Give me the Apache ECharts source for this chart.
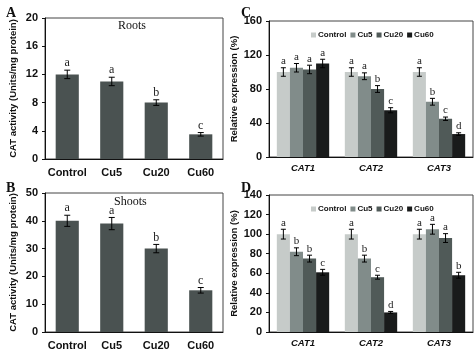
<!DOCTYPE html>
<html>
<head>
<meta charset="utf-8">
<script src="https://cdn.jsdelivr.net/npm/echarts@6/dist/echarts.min.js"></script>
<style>
html,body{margin:0;padding:0;background:#fff;}
#chart{width:474px;height:351px;}
</style>
</head>
<body>
<div id="chart"></div>
<script>
// treatments and genes
const groups = ['Control', 'Cu5', 'Cu20', 'Cu60'];
const genes = ['CAT1', 'CAT2', 'CAT3'];

// A - roots CAT activity
const rootsVal = [12, 11, 8, 3.5];
const rootsErr = [0.6, 0.6, 0.4, 0.25];
const rootsSig = ['a', 'a', 'b', 'c'];

// B - shoots CAT activity
const shootsVal = [40, 39, 30, 15];
const shootsErr = [2, 2.2, 1.5, 1];
const shootsSig = ['a', 'a', 'b', 'c'];

// C - roots relative expression, one array per treatment (CAT1, CAT2, CAT3)
const cVal = [[100, 100, 100], [105, 95, 65], [103, 80, 45], [110, 55, 27]];
const cErr = [[5, 5, 5], [5, 4, 4], [5, 4, 2], [5, 3, 1.5]];
const cSig = [['a', 'a', 'a'], ['a', 'a', 'b'], ['a', 'b', 'c'], ['a', 'c', 'd']];

// D - shoots relative expression
const dVal = [[100, 100, 100], [82, 75, 105], [75, 56, 96], [61, 20, 58]];
const dErr = [[5, 5, 5], [4, 3.5, 5], [3.5, 2, 4.5], [3, 1, 3]];
const dSig = [['a', 'a', 'a'], ['b', 'b', 'a'], ['b', 'c', 'a'], ['c', 'd', 'b']];

const greys = ['#c6cbc9', '#818c8a', '#505a58', '#191b1b'];
const catGap = 0.23;

var chart = echarts.init(document.getElementById('chart'));

// error bar + letter, drawn through the axes
function errSeries(gi, vals, errs, sigs, idx, n, gap, cap, fs) {
    return {
        type: 'custom',
        xAxisIndex: gi,
        yAxisIndex: gi,
        z: 5,
        data: vals.map((v, i) => [i, v, errs[i]]),
        renderItem: function (params, api) {
            const x = api.value(0), v = api.value(1), e = api.value(2);
            const band = api.size([1, 0])[0];
            const groupW = band * (1 - gap);
            const barW = groupW / n;
            const off = n === 1 ? 0 : -groupW / 2 + barW * (idx + 0.5);
            const top = api.coord([x, v + e]);
            const bot = api.coord([x, v - e]);
            const cx = top[0] + off;
            const st = { stroke: '#000', lineWidth: 1 };
            return {
                type: 'group',
                children: [
                    { type: 'line', shape: { x1: cx, y1: top[1], x2: cx, y2: bot[1] }, style: st },
                    { type: 'line', shape: { x1: cx - cap, y1: top[1], x2: cx + cap, y2: top[1] }, style: st },
                    { type: 'line', shape: { x1: cx - cap, y1: bot[1], x2: cx + cap, y2: bot[1] }, style: st },
                    { type: 'text', style: { x: cx, y: top[1] - 1, text: sigs[params.dataIndex], textAlign: 'center', textVerticalAlign: 'bottom', fontFamily: 'Liberation Serif', fontSize: fs, fill: '#222' } }
                ]
            };
        }
    };
}

const axisFont = { fontFamily: 'Liberation Sans', fontWeight: 'bold', color: '#111' };
const grids = [
    { left: 45, top: 18, right: 251, height: 141 },
    { left: 45, top: 193, right: 251, height: 139 },
    { left: 269, top: 21, right: 1, height: 136 },
    { left: 269, top: 195, right: 1, height: 137 }
].map(g => Object.assign(g, { show: true, borderColor: '#444', borderWidth: 1, containLabel: false }));

function xAx(gi, data, italic, fs, margin) {
    return {
        type: 'category', gridIndex: gi, data: data,
        axisTick: { show: false },
        axisLine: { lineStyle: { color: '#111' } },
        axisLabel: Object.assign({}, axisFont, { fontSize: fs, margin: margin, fontStyle: italic ? 'italic' : 'normal', interval: 0 })
    };
}
function yAx(gi, max, interval, name, nameGap) {
    return {
        type: 'value', gridIndex: gi, min: 0, max: max, interval: interval,
        name: name, nameLocation: 'middle', nameGap: nameGap,
        nameTextStyle: Object.assign({}, axisFont, { fontSize: 9.5 }),
        splitLine: { show: false },
        axisLine: { show: true, lineStyle: { color: '#111' } },
        axisTick: { show: true, length: 3, lineStyle: { color: '#111' } },
        axisLabel: Object.assign({}, axisFont, { fontSize: 11, margin: 7 })
    };
}

const series = [
    { type: 'bar', name: 'roots', xAxisIndex: 0, yAxisIndex: 0, data: rootsVal, barWidth: '52%', itemStyle: { color: '#4a5251' } },
    errSeries(0, rootsVal, rootsErr, rootsSig, 0, 1, 0, 3, 12),
    { type: 'bar', name: 'shoots', xAxisIndex: 1, yAxisIndex: 1, data: shootsVal, barWidth: '52%', itemStyle: { color: '#4a5251' } },
    errSeries(1, shootsVal, shootsErr, shootsSig, 0, 1, 0, 3, 12)
];
[[2, cVal, cErr, cSig], [3, dVal, dErr, dSig]].forEach(([gi, vals, errs, sigs]) => {
    groups.forEach((g, k) => {
        series.push({ type: 'bar', name: g, xAxisIndex: gi, yAxisIndex: gi, data: vals[k], barGap: '0%', barCategoryGap: (catGap * 100) + '%', itemStyle: { color: greys[k] } });
    });
    groups.forEach((g, k) => {
        series.push(errSeries(gi, vals[k], errs[k], sigs[k], k, 4, catGap, 2.5, 11));
    });
});

const legendBase = {
    data: groups, orient: 'horizontal', itemWidth: 5, itemHeight: 5, itemGap: 4,
    icon: 'rect',
    textStyle: { fontFamily: 'Liberation Sans', fontWeight: 'bold', fontSize: 8, color: '#111', padding: [0, 0, 0, -3] },
    selectedMode: false
};

const serifTitle = (text, left, top, size, bold) => ({
    text: text, left: left, top: top, padding: 0,
    textStyle: { fontFamily: 'Liberation Serif', fontSize: size, fontWeight: bold ? 'bold' : 'normal', color: '#111' }
});

var option = {
    animation: false,
    backgroundColor: '#fff',
    title: [
        serifTitle('A', 6, 6, 14, true),
        serifTitle('B', 6, 181, 14, true),
        serifTitle('C', 241, 6, 14, true),
        serifTitle('D', 241, 181, 14, true),
        serifTitle('Roots', 118, 20, 12, false),
        serifTitle('Shoots', 114, 196, 12, false)
    ],
    legend: [
        Object.assign({}, legendBase, { left: 306, top: 26 }),
        Object.assign({}, legendBase, { left: 306, top: 200 })
    ],
    grid: grids,
    xAxis: [
        xAx(0, groups, false, 11, 8),
        xAx(1, groups, false, 11, 8),
        xAx(2, genes, true, 9.5, 6),
        xAx(3, genes, true, 9.5, 6)
    ],
    yAxis: [
        yAx(0, 20, 4, 'CAT activity (Units/mg protein)', 27),
        yAx(1, 50, 10, 'CAT activity (Units/mg protein)', 27),
        yAx(2, 160, 40, 'Relative expression (%)', 28),
        yAx(3, 140, 20, 'Relative expression (%)', 28)
    ],
    series: series
};

chart.setOption(option);
</script>
</body>
</html>
